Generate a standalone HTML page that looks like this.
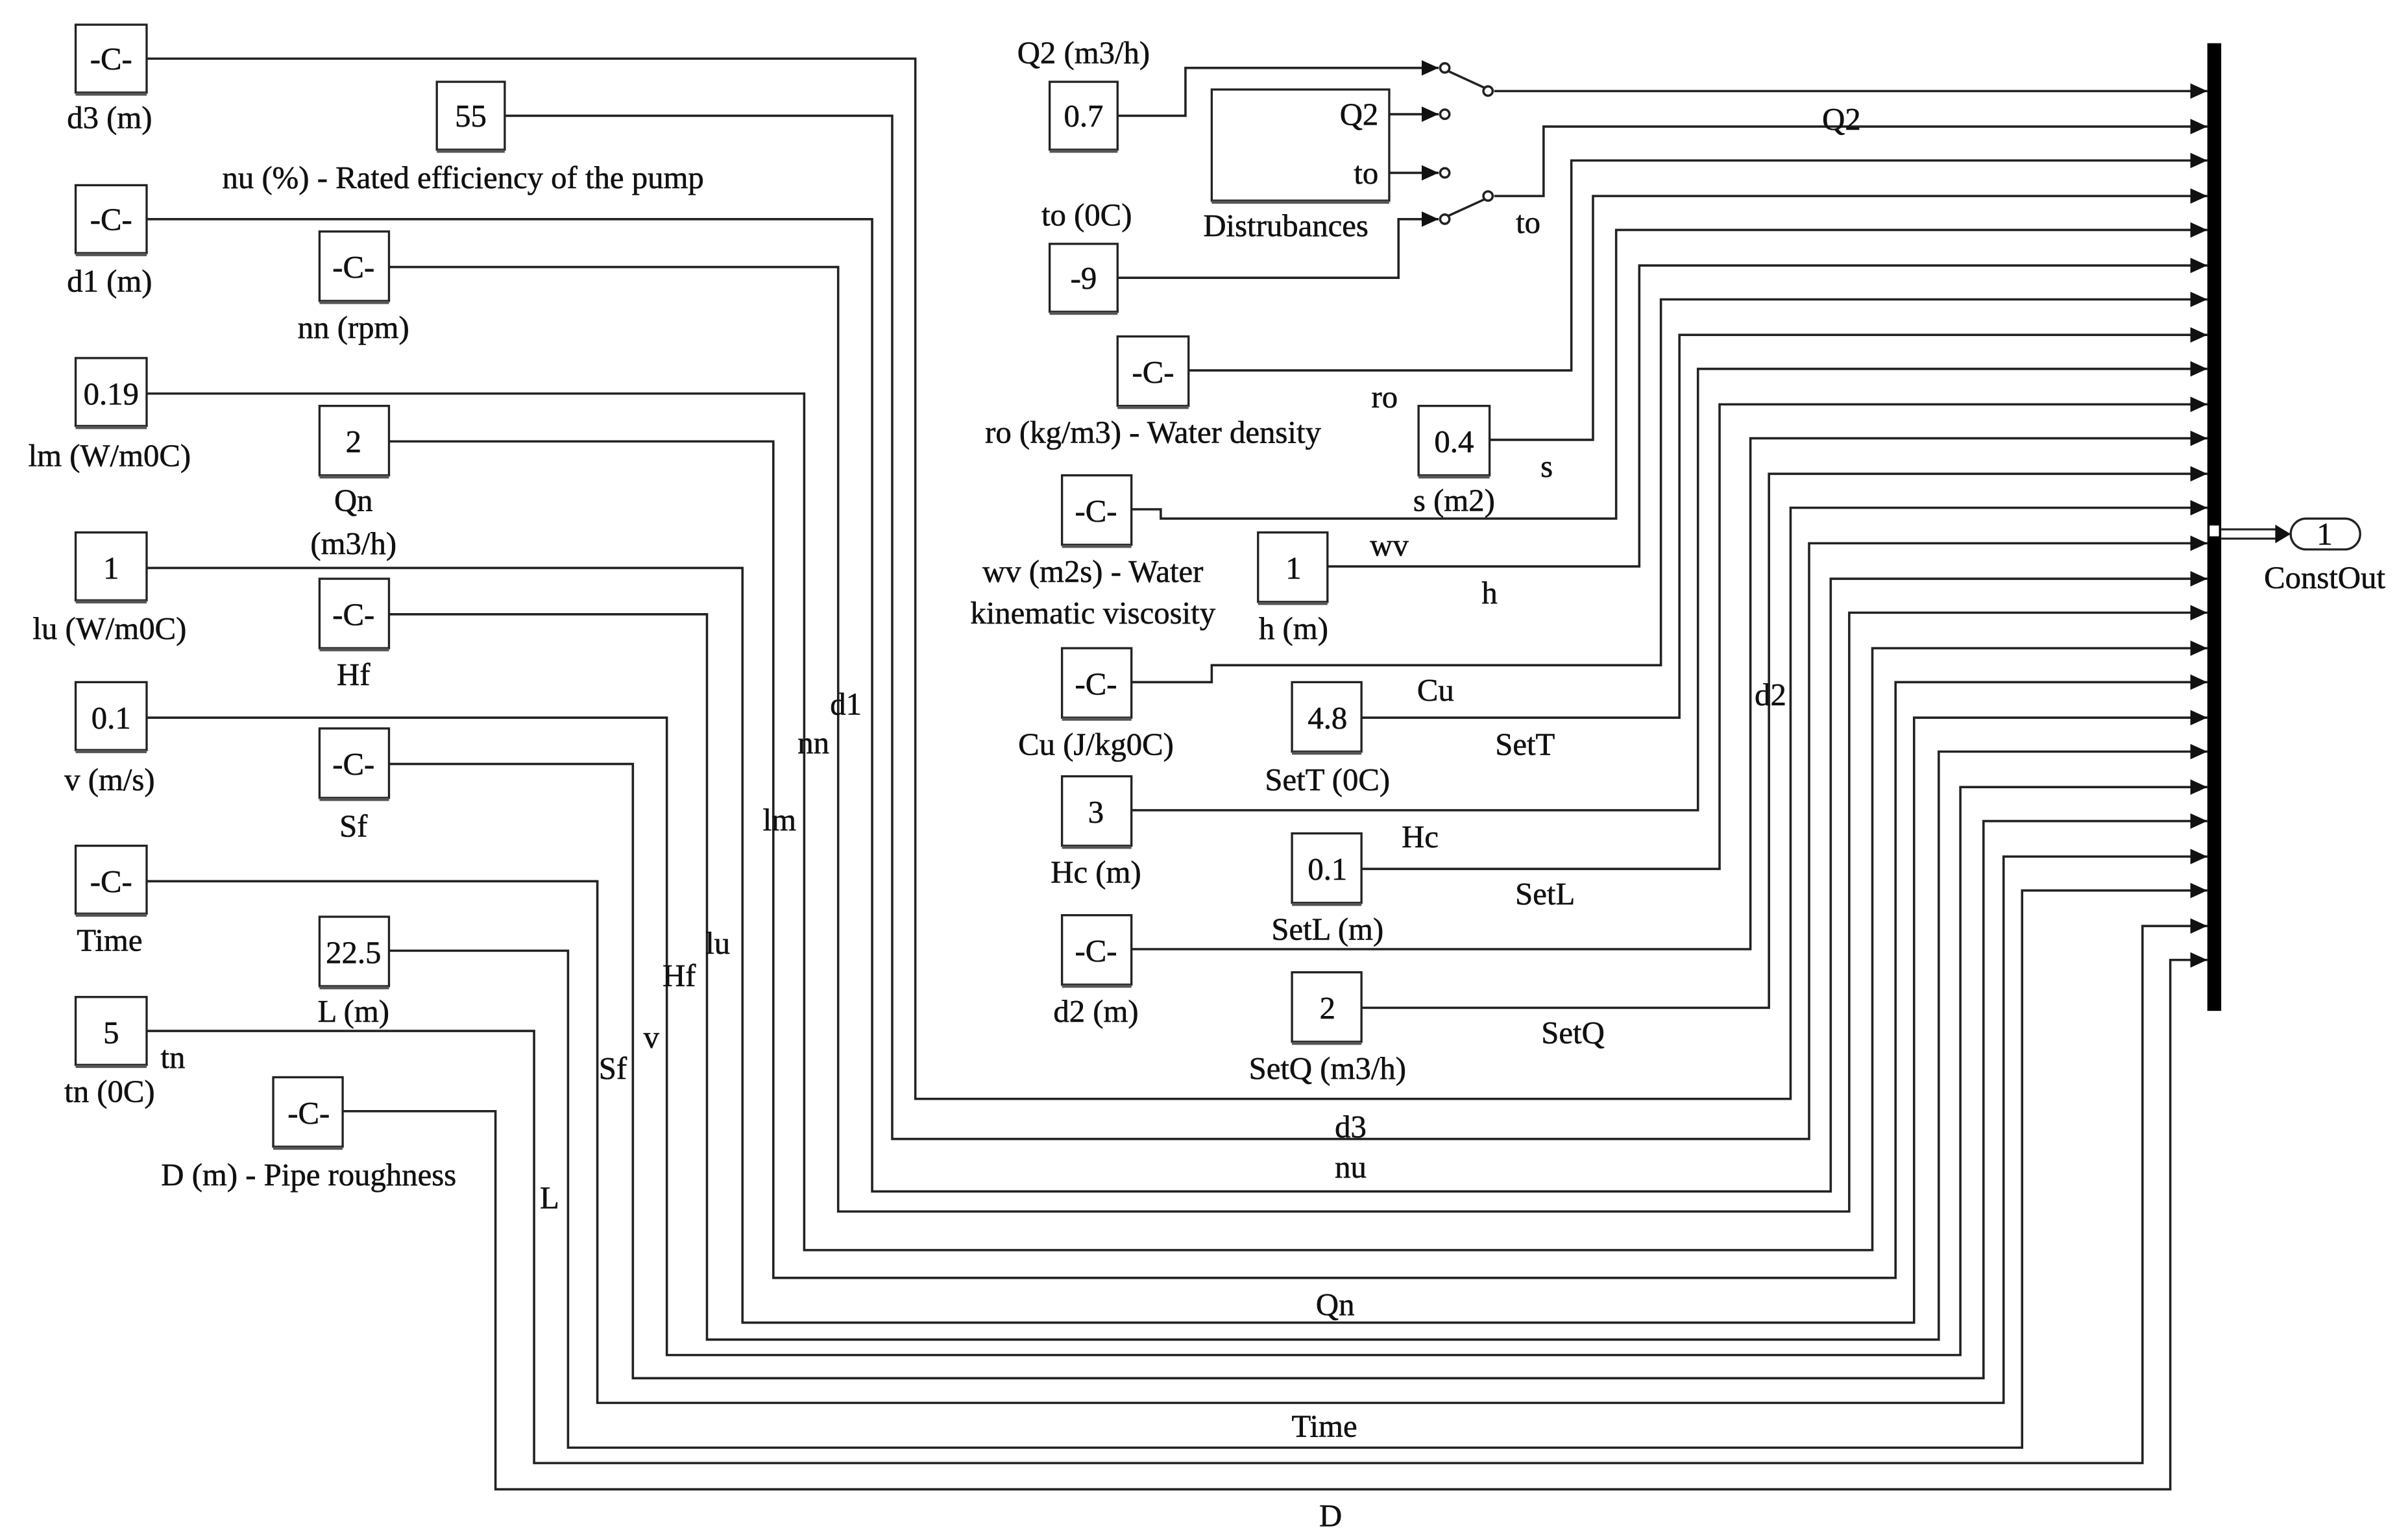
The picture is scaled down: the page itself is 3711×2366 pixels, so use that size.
<!DOCTYPE html>
<html><head><meta charset="utf-8"><style>
html,body{margin:0;padding:0;background:#fff;}
svg{display:block;}
text{font-family:"Liberation Serif","DejaVu Serif",serif;font-size:20.5px;fill:#111;stroke:#111;stroke-width:0.25;}
.b{fill:#fff;stroke:#222;stroke-width:1.4;}
.l{fill:none;stroke:#222;stroke-width:1.5;}
.m{text-anchor:middle;}
</style></head><body>
<svg width="3711" height="2366" viewBox="0 0 1560 994.6" preserveAspectRatio="none" xmlns="http://www.w3.org/2000/svg">
<defs>
<marker id="a" markerWidth="12" markerHeight="10" refX="11" refY="5" orient="auto" markerUnits="userSpaceOnUse"><path d="M0,0 L11,5 L0,10 Z" fill="#111"/></marker>
</defs>
<g class="l" marker-end="url(#a)">
<path d="M95,38 H593 V712 H1160 V329 H1430"/>
<path d="M327,75 H578 V738 H1172 V352 H1430"/>
<path d="M95,142 H565 V772 H1186 V375 H1430"/>
<path d="M252,173 H543 V785 H1198 V397 H1430"/>
<path d="M95,255 H521 V810 H1213 V420 H1430"/>
<path d="M252,286 H501 V828 H1228 V442 H1430"/>
<path d="M95,368 H481 V857 H1240 V465 H1430"/>
<path d="M252,398 H458 V868 H1256 V487 H1430"/>
<path d="M95,465 H432 V878 H1270 V510 H1430"/>
<path d="M252,495 H410 V893 H1285 V532 H1430"/>
<path d="M95,571 H387 V909 H1298 V555 H1430"/>
<path d="M252,616 H368 V938 H1310 V577 H1430"/>
<path d="M95,668 H346 V948 H1388 V600 H1430"/>
<path d="M222,720 H321 V965 H1406 V622 H1430"/>
<path d="M968,59 H1430"/>
<path d="M968,127 H1000 V82 H1430"/>
<path d="M770,240 H1018 V104 H1430"/>
<path d="M965,285 H1032 V127 H1430"/>
<path d="M733,330 H752 V336 H1047 V149 H1430"/>
<path d="M860,367 H1062 V172 H1430"/>
<path d="M733,442 H785 V431 H1076 V194 H1430"/>
<path d="M882,465 H1088 V217 H1430"/>
<path d="M733,525 H1100 V239 H1430"/>
<path d="M882,563 H1114 V262 H1430"/>
<path d="M733,615 H1134 V284 H1430"/>
<path d="M882,653 H1146 V307 H1430"/>
<path d="M724,75 H768 V44 H932"/>
<path d="M900,74 H932"/>
<path d="M900,112 H932"/>
<path d="M724,180 H906 V142 H932"/>
</g>
<g class="l">
<circle cx="936" cy="44" r="3" fill="#fff"/><circle cx="964" cy="59" r="3" fill="#fff"/>
<path d="M938,46 L962,57"/>
<circle cx="936" cy="74" r="3" fill="#fff"/><circle cx="936" cy="112" r="3" fill="#fff"/>
<circle cx="936" cy="142" r="3" fill="#fff"/><circle cx="964" cy="127" r="3" fill="#fff"/>
<path d="M938,140 L962,129"/>
</g>
<rect x="1430" y="28" width="9" height="627" fill="#000"/>
<rect x="1431" y="340" width="7" height="8" fill="#fff" stroke="#000" stroke-width="1"/>
<path d="M1439,343 H1476 M1439,349 H1476" stroke="#222" stroke-width="1.3"/>
<path d="M1474,340 L1484,346 L1474,352 Z" fill="#111"/>
<rect x="1484" y="336" width="45" height="20" rx="10" class="b"/>
<text x="1506" y="353" class="m">1</text>
<text x="1506" y="381" class="m">ConstOut</text>
<g class="b">
<rect x="49" y="16" width="46" height="44"/>
<rect x="283" y="53" width="44" height="44"/>
<rect x="49" y="120" width="46" height="44"/>
<rect x="207" y="150" width="45" height="45"/>
<rect x="49" y="232" width="46" height="44"/>
<rect x="207" y="263" width="45" height="45"/>
<rect x="49" y="345" width="46" height="44"/>
<rect x="207" y="375" width="45" height="45"/>
<rect x="49" y="442" width="46" height="44"/>
<rect x="207" y="472" width="45" height="45"/>
<rect x="49" y="548" width="46" height="44"/>
<rect x="207" y="594" width="45" height="45"/>
<rect x="49" y="646" width="46" height="44"/>
<rect x="177" y="698" width="45" height="45"/>
<rect x="680" y="53" width="44" height="44"/>
<rect x="785" y="58" width="115" height="72"/>
<rect x="680" y="158" width="44" height="44"/>
<rect x="724" y="218" width="46" height="45"/>
<rect x="919" y="263" width="46" height="45"/>
<rect x="688" y="308" width="45" height="45"/>
<rect x="815" y="345" width="45" height="45"/>
<rect x="688" y="420" width="45" height="45"/>
<rect x="837" y="442" width="45" height="45"/>
<rect x="688" y="503" width="45" height="45"/>
<rect x="837" y="540" width="45" height="45"/>
<rect x="688" y="593" width="45" height="45"/>
<rect x="837" y="630" width="45" height="45"/>
</g>
<g stroke="#555" stroke-width="2">
<path d="M49,61 H95 M283,98 H327 M49,165 H95 M207,196 H252 M49,277 H95 M207,309 H252 M49,390 H95 M207,421 H252 M49,487 H95 M207,518 H252 M49,593 H95 M207,640 H252 M49,691 H95 M177,744 H222 M680,98 H724 M785,131 H900 M680,203 H724 M724,264 H770 M919,309 H965 M688,354 H733 M815,391 H860 M688,466 H733 M837,488 H882 M688,549 H733 M837,586 H882 M688,639 H733 M837,676 H882"/>
</g>
<g class="m">
<text x="72" y="45">-C-</text>
<text x="305" y="82">55</text>
<text x="72" y="149">-C-</text>
<text x="229" y="180">-C-</text>
<text x="72" y="262">0.19</text>
<text x="229" y="293">2</text>
<text x="72" y="375">1</text>
<text x="229" y="405">-C-</text>
<text x="72" y="472">0.1</text>
<text x="229" y="502">-C-</text>
<text x="72" y="578">-C-</text>
<text x="229" y="624">22.5</text>
<text x="72" y="676">5</text>
<text x="200" y="728">-C-</text>
<text x="702" y="82">0.7</text>
<text x="702" y="187">-9</text>
<text x="747" y="248">-C-</text>
<text x="942" y="293">0.4</text>
<text x="710" y="338">-C-</text>
<text x="838" y="375">1</text>
<text x="710" y="450">-C-</text>
<text x="860" y="472">4.8</text>
<text x="710" y="533">3</text>
<text x="860" y="570">0.1</text>
<text x="710" y="623">-C-</text>
<text x="860" y="660">2</text>
</g>
<text x="893" y="81" text-anchor="end">Q2</text>
<text x="893" y="119" text-anchor="end">to</text>
<g class="m">
<text x="71" y="83">d3 (m)</text>
<text x="300" y="122">nu (%) - Rated efficiency of the pump</text>
<text x="71" y="189">d1 (m)</text>
<text x="229" y="219">nn (rpm)</text>
<text x="71" y="302">lm (W/m0C)</text>
<text x="229" y="331">Qn</text>
<text x="229" y="359">(m3/h)</text>
<text x="71" y="414">lu (W/m0C)</text>
<text x="229" y="444">Hf</text>
<text x="71" y="512">v (m/s)</text>
<text x="229" y="542">Sf</text>
<text x="71" y="616">Time</text>
<text x="229" y="662">L (m)</text>
<text x="71" y="714">tn (0C)</text>
<text x="112" y="692">tn</text>
<text x="200" y="768">D (m) - Pipe roughness</text>
<text x="702" y="41">Q2 (m3/h)</text>
<text x="704" y="146">to (0C)</text>
<text x="833" y="153">Distrubances</text>
<text x="990" y="151">to</text>
<text x="1193" y="84">Q2</text>
<text x="747" y="287">ro (kg/m3) - Water density</text>
<text x="897" y="264">ro</text>
<text x="942" y="331">s (m2)</text>
<text x="1002" y="309">s</text>
<text x="708" y="377">wv (m2s) - Water</text>
<text x="708" y="404">kinematic viscosity</text>
<text x="900" y="360">wv</text>
<text x="838" y="414">h (m)</text>
<text x="965" y="391">h</text>
<text x="710" y="489">Cu (J/kg0C)</text>
<text x="930" y="454">Cu</text>
<text x="860" y="512">SetT (0C)</text>
<text x="988" y="489">SetT</text>
<text x="710" y="572">Hc (m)</text>
<text x="920" y="549">Hc</text>
<text x="860" y="609">SetL (m)</text>
<text x="1001" y="586">SetL</text>
<text x="710" y="662">d2 (m)</text>
<text x="1147" y="457">d2</text>
<text x="860" y="699">SetQ (m3/h)</text>
<text x="1019" y="676">SetQ</text>
<text x="548" y="463">d1</text>
<text x="527" y="488">nn</text>
<text x="505" y="538">lm</text>
<text x="465" y="618">lu</text>
<text x="440" y="639">Hf</text>
<text x="422" y="679">v</text>
<text x="397" y="699">Sf</text>
<text x="356" y="783">L</text>
<text x="875" y="737">d3</text>
<text x="875" y="763">nu</text>
<text x="865" y="852">Qn</text>
<text x="858" y="931">Time</text>
<text x="862" y="989">D</text>
</g>
</svg>
</body></html>
